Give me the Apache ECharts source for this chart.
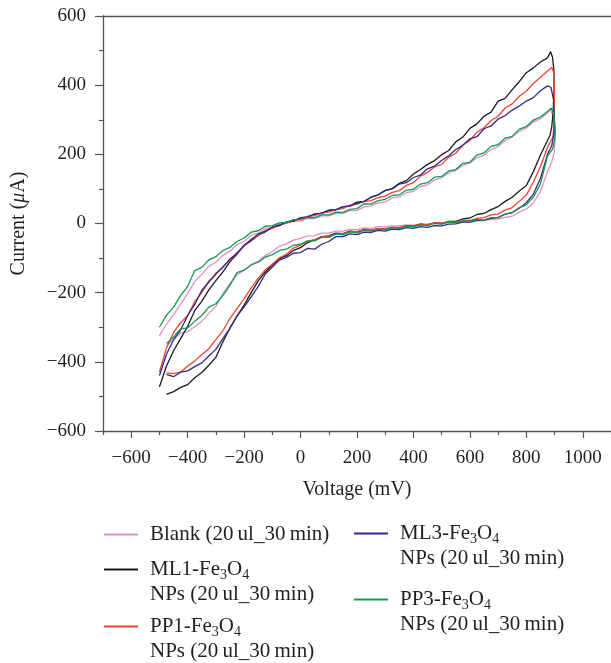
<!DOCTYPE html>
<html>
<head>
<meta charset="utf-8">
<script src="https://cdn.jsdelivr.net/npm/echarts@6/dist/echarts.min.js"></script>
<style>
html,body{margin:0;padding:0;background:#fff;}
#chart{width:611px;height:663px;}
</style>
</head>
<body>
<div id="chart"></div>
<script>
// Voltage sample points (mV)
const fwdV = [-500,-475,-450,-425,-400,-375,-350,-325,-300,-275,-250,-225,-200,-175,-150,-125,-100,-75,-50,-25,
  0,25,50,75,100,125,150,175,200,225,250,275,300,325,350,375,400,425,450,475,
  500,525,550,575,600,625,650,675,700,725,750,775,800,825,850,875];
const revV = [875,850,825,800,775,750,725,700,675,650,625,600,575,550,525,500,475,450,425,400,
  375,350,325,300,275,250,225,200,175,150,125,100,75,50,25,0,-25,-50,-75,-100,
  -125,-150,-175,-200,-225,-250,-275,-300,-325,-350,-375,-400,-425,-450,-475];

const seriesNames = ['Blank (20\u2009ul_30\u2009min)','ML1-Fe3O4 NPs (20\u2009ul_30\u2009min)','PP1-Fe3O4 NPs (20\u2009ul_30\u2009min)','ML3-Fe3O4 NPs (20\u2009ul_30\u2009min)','PP3-Fe3O4 NPs (20\u2009ul_30\u2009min)'];
const seriesColors = ['#e58ccb','#1a1a1a','#f5432a','#2e2a92','#13994c'];

// Current (uA) – forward scan (at fwdV), switching region [V,I], reverse scan (at revV)
const blankFwd = [-325,-290,-264,-233,-202,-168,-147,-124,-112,-92,-80,-61,-52,-34,-28,-14,-11,-1,0,8,
  7,15,14,22,22,29,29,37,38,48,50,60,62,74,77,89,93,107,112,126,
  132,147,153,168,175,190,198,214,223,240,250,267,276,294,303,320];
const blankTurn = [[886,329],[895,310],[900,280],[901,240],[899,205],[890,178]];
const blankRev = [150,92,60,42,33,21,18,13,12,8,8,4,5,2,3,0,1,-2,-1,-5,
  -4,-7,-7,-10,-9,-14,-13,-18,-17,-22,-22,-28,-28,-35,-36,-43,-48,-59,-66,-81,
  -93,-109,-118,-135,-148,-173,-203,-239,-260,-283,-298,-314,-316,-336,-352];

const ml1Fwd = [-472,-412,-368,-333,-297,-252,-225,-192,-165,-140,-110,-88,-64,-50,-34,-24,-12,-6,4,6,
  16,18,27,29,37,39,48,51,62,64,76,83,96,101,116,124,143,156,171,182,
  199,211,236,250,275,288,310,322,354,362,387,410,436,450,467,479];
const ml1Turn = [[886,497],[893,480],[898,440],[898,380],[895,320],[890,280],[884,255]];
const ml1Rev = [240,198,150,110,94,76,64,49,40,29,26,16,13,6,6,0,2,-4,-2,-8,
  -6,-13,-11,-17,-15,-20,-18,-24,-22,-29,-28,-36,-38,-47,-55,-70,-78,-93,-102,-120,
  -140,-166,-200,-236,-268,-302,-342,-387,-410,-431,-446,-466,-474,-486,-494];

const pp1Fwd = [-430,-360,-315,-287,-266,-226,-200,-166,-148,-124,-106,-84,-66,-45,-35,-20,-14,-3,1,10,
  13,21,23,31,33,40,43,53,56,64,66,75,79,90,95,110,118,137,148,164,
  171,192,203,227,240,264,277,298,310,334,346,368,383,405,423,441];
const pp1Turn = [[890,451],[897,438],[899,390],[899,330],[898,280],[894,250]];
const pp1Rev = [220,165,120,82,64,46,39,27,25,17,15,9,9,4,5,1,1,-3,-3,-7,
  -7,-11,-11,-15,-15,-19,-19,-23,-24,-29,-31,-37,-39,-47,-51,-63,-71,-89,-99,-118,
  -134,-158,-186,-218,-246,-274,-310,-336,-362,-379,-398,-412,-430,-434,-432];

const ml3Fwd = [-440,-378,-336,-308,-266,-234,-193,-170,-144,-127,-102,-87,-62,-48,-30,-23,-10,-5,5,8,
  17,19,28,30,39,40,49,50,59,63,76,83,95,100,114,118,133,140,158,166,
  182,196,214,226,245,251,274,282,302,312,328,340,354,364,384,398];
const ml3Turn = [[878,403],[887,394],[896,360],[899,300],[898,260],[890,225]];
const ml3Rev = [200,130,85,60,44,31,27,17,15,10,9,4,4,-1,-2,-7,-6,-11,-9,-14,
  -12,-18,-16,-22,-20,-26,-25,-32,-30,-38,-38,-52,-60,-74,-72,-84,-86,-98,-106,-126,
  -146,-182,-212,-241,-267,-303,-332,-364,-383,-403,-414,-426,-430,-443,-436];

const pp3Fwd = [-300,-265,-242,-208,-182,-136,-127,-105,-96,-78,-69,-52,-42,-25,-21,-8,-6,2,3,11,
  11,18,17,25,25,33,32,41,43,57,56,66,70,81,83,96,99,114,118,134,
  136,152,156,174,177,198,204,223,228,247,252,273,280,299,308,324];
const pp3Turn = [[888,334],[896,320],[901,292],[903,262],[900,240],[893,215]];
const pp3Rev = [195,115,76,54,46,32,27,18,17,10,12,6,8,2,4,-2,0,-6,-4,-10,
  -8,-14,-12,-18,-16,-22,-20,-27,-24,-33,-30,-40,-40,-50,-50,-60,-63,-74,-78,-90,
  -97,-112,-120,-135,-142,-178,-208,-232,-242,-266,-283,-302,-305,-328,-347];

const xMajorTicks = [-600,-400,-200,0,200,400,600,800,1000];
const xMinorTicks = [-700,-500,-300,-100,100,300,500,700,900,1100];

function buildLoop(fwd, turn, rev) {
  const pts = fwdV.map((v, i) => [v, fwd[i]]);
  turn.forEach(p => pts.push(p));
  revV.forEach((v, i) => pts.push([v, rev[i]]));
  return pts;
}
const loops = [
  buildLoop(blankFwd, blankTurn, blankRev),
  buildLoop(ml1Fwd, ml1Turn, ml1Rev),
  buildLoop(pp1Fwd, pp1Turn, pp1Rev),
  buildLoop(ml3Fwd, ml3Turn, ml3Rev),
  buildLoop(pp3Fwd, pp3Turn, pp3Rev)
];

const FONT = 'Liberation Serif';
const TXT = '#231f20';
const AX = '#555';

const legendRich = {
  a: {fontFamily: FONT, fontSize: 21, lineHeight: 25, color: TXT},
  s: {fontFamily: FONT, fontSize: 14, lineHeight: 12, verticalAlign: 'bottom', color: TXT}
};
function legendLabel(name) {
  if (name.indexOf('Fe3O4') < 0) return '{a|' + name + '}';
  const parts = name.split(' NPs ');
  const head = parts[0].replace('-Fe3O4', '');
  return '{a|' + head + '-Fe}{s|3}{a|O}{s|4}\n{a|NPs ' + parts[1] + '}';
}
// legend positions: [left, top, two-line?]
const legendPos = [[103, 524, false],[103, 559, true],[103, 616, true],[353, 523, true],[353, 589, true]];
const legends = seriesNames.map((n, i) => ({
  data: [n],
  left: legendPos[i][0],
  top: legendPos[i][1],
  padding: 0,
  itemWidth: 34,
  itemHeight: 14,
  selectedMode: false,
  itemStyle: {opacity: 0},
  formatter: legendLabel,
  textStyle: {
    fontFamily: FONT, fontSize: 21, color: TXT,
    padding: legendPos[i][2] ? [25, 0, 0, 7] : [0, 0, 0, 7],
    rich: legendRich
  }
}));

const chart = echarts.init(document.getElementById('chart'), null, {renderer: 'canvas'});
chart.setOption({
  animation: false,
  backgroundColor: '#fff',
  grid: {left: 103, top: 16, width: 510, height: 415, containLabel: false},
  legend: legends,
  xAxis: [
    {
      type: 'value', min: -700, max: 1100, position: 'bottom',
      name: 'Voltage (mV)', nameLocation: 'middle', nameGap: 49,
      nameTextStyle: {fontFamily: FONT, fontSize: 20, color: TXT},
      axisLine: {show: true, onZero: false, lineStyle: {color: AX, width: 1.3}},
      axisTick: {show: true, customValues: xMajorTicks, length: 7, lineStyle: {color: AX, width: 1.2}},
      axisLabel: {show: true, customValues: xMajorTicks, margin: 18, fontFamily: FONT, fontSize: 19, color: TXT,
        formatter: v => (v < 0 ? '\u2212' + Math.abs(v) : String(v))},
      splitLine: {show: false}
    },
    {
      type: 'value', min: -700, max: 1100, position: 'bottom',
      axisLine: {show: false, onZero: false},
      axisTick: {show: true, customValues: xMinorTicks, length: 4, lineStyle: {color: AX, width: 1.2}},
      axisLabel: {show: false},
      splitLine: {show: false}
    },
    {
      type: 'value', min: -700, max: 1100, position: 'top',
      axisLine: {show: true, onZero: false, lineStyle: {color: AX, width: 1.3}},
      axisTick: {show: false},
      axisLabel: {show: false},
      splitLine: {show: false}
    }
  ],
  yAxis: {
    type: 'value', min: -600, max: 600, interval: 200,
    name: '{n|Current (}{i|\u03bc}{n|A)}', nameLocation: 'middle', nameGap: 74,
    nameTextStyle: {fontFamily: FONT, fontSize: 20, color: TXT,
      rich: {n: {fontFamily: FONT, fontSize: 20, color: TXT}, i: {fontFamily: FONT, fontSize: 20, fontStyle: 'italic', color: TXT}}},
    axisLine: {show: true, onZero: false, lineStyle: {color: AX, width: 1.3}},
    axisTick: {show: true, length: 8, lineStyle: {color: AX, width: 1.2}},
    minorTick: {show: true, splitNumber: 2, length: 4, lineStyle: {color: AX, width: 1.2}},
    axisLabel: {margin: 17, fontFamily: FONT, fontSize: 19, color: TXT,
      formatter: v => (v < 0 ? '\u2212' + Math.abs(v) : String(v))},
    splitLine: {show: false},
    minorSplitLine: {show: false}
  },
  series: seriesNames.map((n, i) => ({
    name: n, type: 'line', xAxisIndex: 0, yAxisIndex: 0,
    data: loops[i], showSymbol: false, symbol: 'none',
    lineStyle: {color: seriesColors[i], width: 1.3},
    itemStyle: {color: seriesColors[i]},
    emphasis: {disabled: true}
  }))
});
</script>
</body>
</html>
